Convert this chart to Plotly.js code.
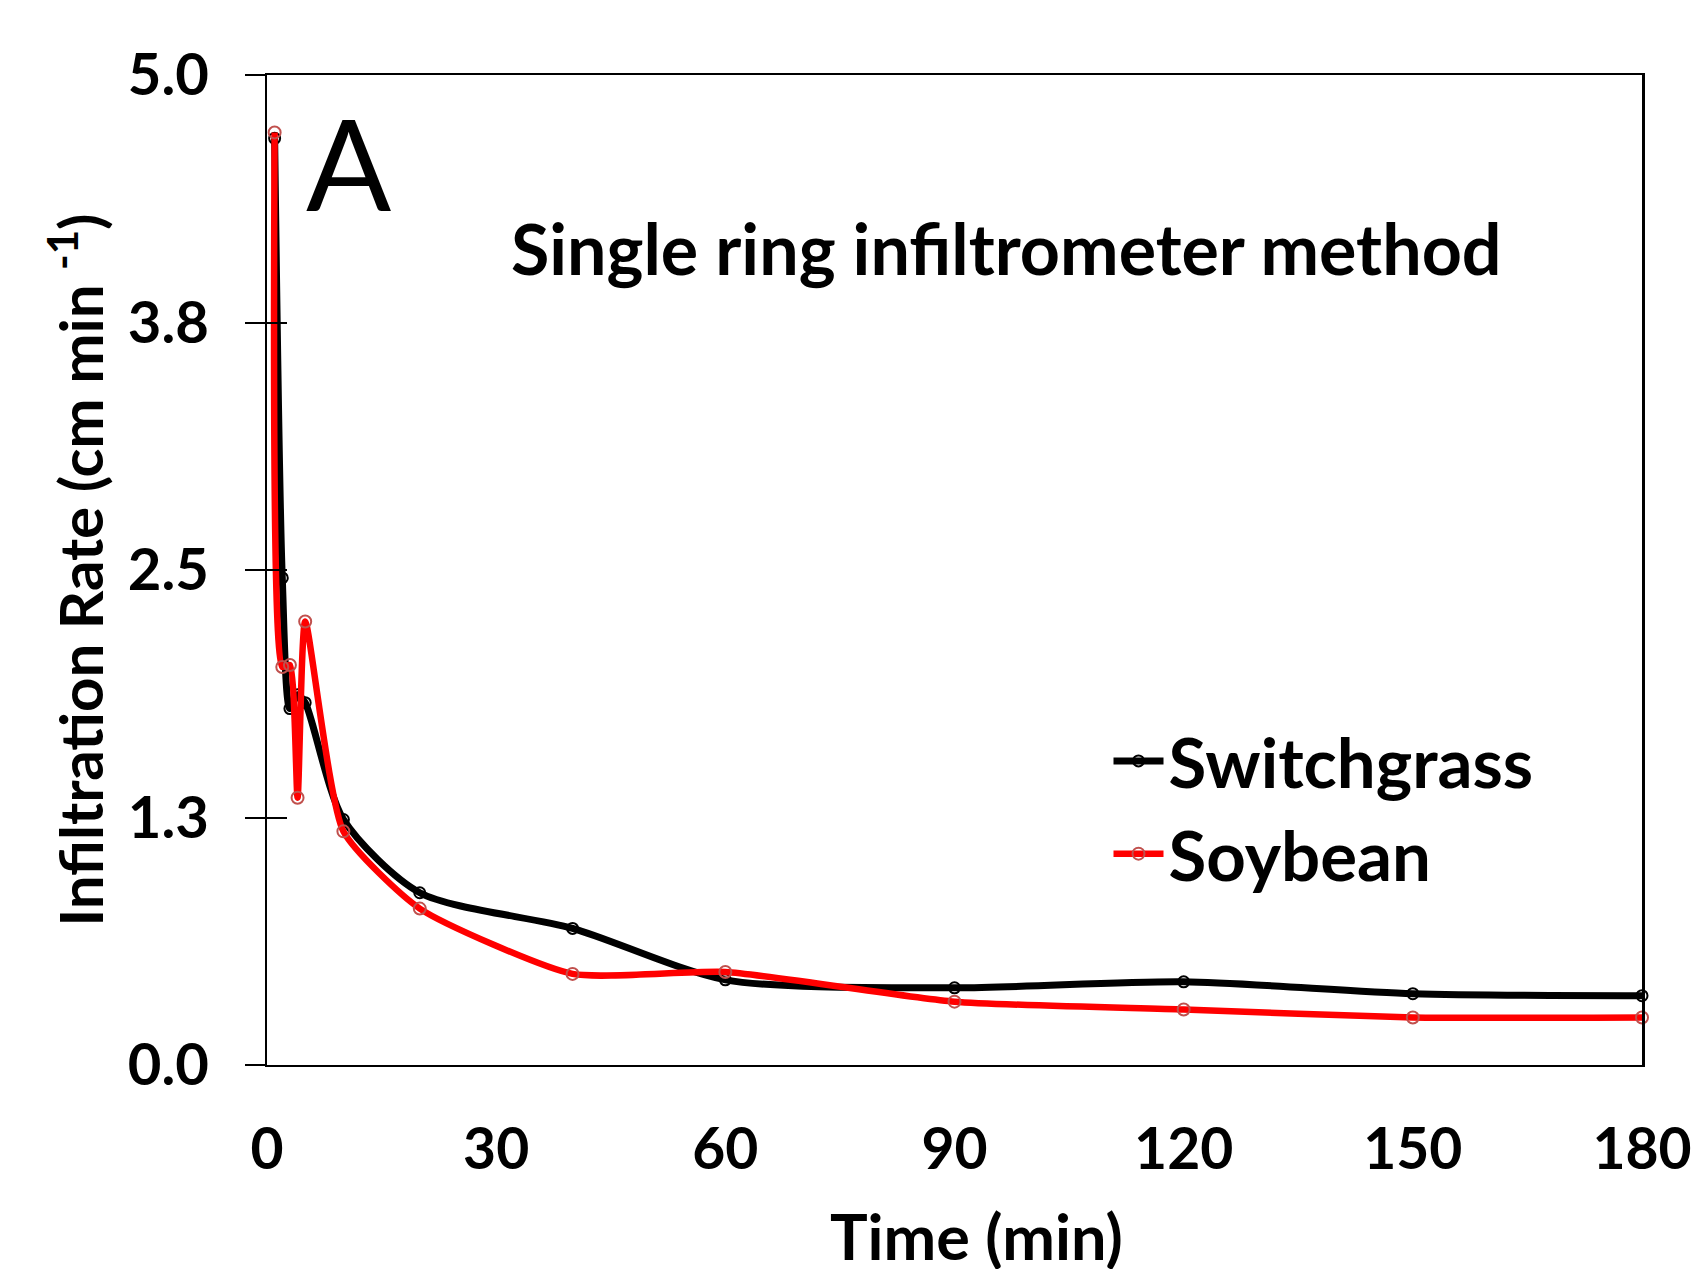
<!DOCTYPE html>
<html>
<head>
<meta charset="utf-8">
<script src="https://cdn.plot.ly/plotly-3.0.1.min.js"></script>
<style>html,body{margin:0;padding:0;background:#fff;}#chart{width:1692px;height:1269px;}</style>
</head>
<body>
<div id="chart"></div>
<script>
// Data
var timeMin = [1, 2, 3, 4, 5, 10, 20, 40, 60, 90, 120, 150, 180];
var switchgrass = [4.68, 2.46, 1.80, 1.87, 1.83, 1.24, 0.87, 0.69, 0.43, 0.39, 0.42, 0.36, 0.35];
var soybean = [4.71, 2.01, 2.02, 1.35, 2.24, 1.18, 0.79, 0.46, 0.47, 0.32, 0.28, 0.24, 0.24];
var seriesNames = ["Switchgrass", "Soybean"];
var yTickVals = [0, 1.25, 2.5, 3.75, 5.0];
var yTickText = ["0.0", "1.3", "2.5", "3.8", "5.0"];
var xTickVals = [0, 30, 60, 90, 120, 150, 180];
var titleText = "Single ring infiltrometer method";
var xTitleText = "Time (min)";
var yTitleText = "Infiltration Rate (cm min <sup>-1</sup>)";
var panelLabel = "A";

var FONT = "Lato, 'Open Sans', sans-serif";

var traces = [
  {
    x: timeMin, y: switchgrass, name: seriesNames[0], type: "scatter", mode: "lines+markers",
    line: {color: "#000000", width: 7, shape: "spline", smoothing: 0.75},
    marker: {symbol: "circle-open", size: 11, color: "#000000", line: {width: 2, color: "#000000"}},
    cliponaxis: false
  },
  {
    x: timeMin, y: soybean, name: seriesNames[1], type: "scatter", mode: "lines+markers",
    line: {color: "#FF0000", width: 6.5, shape: "spline", smoothing: 0.55},
    marker: {symbol: "circle-open", size: 12, color: "#C0504D", line: {width: 2, color: "#C0504D"}},
    cliponaxis: false
  },
  // empty helper trace that activates the overlaid axis drawing the inner half of the crossing y ticks
  {x: [], y: [], yaxis: "y2", showlegend: false, hoverinfo: "skip", type: "scatter", mode: "lines"}
];

var layout = {
  width: 1692, height: 1269,
  paper_bgcolor: "#ffffff", plot_bgcolor: "#ffffff",
  margin: {l: 267, r: 50, t: 75, b: 204, pad: 0},
  font: {family: FONT, color: "#000000"},
  showlegend: true,
  legend: {
    x: 0.612, y: 0.359, xanchor: "left", yanchor: "top",
    bgcolor: "rgba(0,0,0,0)", borderwidth: 0,
    font: {family: FONT, size: 69, weight: "bold", color: "#000000"},
    itemwidth: 50, tracegroupgap: 0
  },
  xaxis: {
    range: [0, 180], tickvals: xTickVals, ticks: "", showgrid: false, zeroline: false,
    showline: true, linecolor: "#000000", linewidth: 2, mirror: true,
    tickfont: {family: FONT, size: 57, weight: "bold", color: "#000000"},
    ticklabelstandoff: 34, ticklabeloverflow: "allow"
  },
  yaxis: {
    range: [0, 5], tickvals: yTickVals, ticktext: yTickText, ticks: "outside", ticklen: 20,
    tickwidth: 2, tickcolor: "#000000", showgrid: false, zeroline: false,
    showline: true, linecolor: "#000000", linewidth: 2.5, mirror: true,
    tickfont: {family: FONT, size: 58, weight: "bold", color: "#000000"},
    ticklabelstandoff: 24,
    title: {text: yTitleText, font: {family: FONT, size: 60, weight: "bold", color: "#000000"}, standoff: 5}
  },
  yaxis2: {
    overlaying: "y", side: "left", range: [0, 5], tickvals: yTickVals, ticks: "inside", ticklen: 20,
    tickwidth: 2, tickcolor: "#000000", showticklabels: false, showgrid: false, zeroline: false, showline: false
  },
  annotations: [
    {text: panelLabel, xref: "paper", yref: "paper", x: 0.0596, y: 0.912, xanchor: "center", yanchor: "middle",
     showarrow: false, font: {family: FONT, size: 126, color: "#000000"}},
    {text: titleText, xref: "paper", yref: "paper", x: 0.5375, y: 0.825, xanchor: "center", yanchor: "middle",
     showarrow: false, font: {family: FONT, size: 70, weight: "bold", color: "#000000"}},
    {text: xTitleText, xref: "paper", yref: "paper", x: 0.516, y: -0.172, xanchor: "center", yanchor: "middle",
     showarrow: false, font: {family: FONT, size: 63, weight: "bold", color: "#000000"}}
  ]
};

Plotly.newPlot("chart", traces, layout, {staticPlot: true, displayModeBar: false});
</script>
</body>
</html>
